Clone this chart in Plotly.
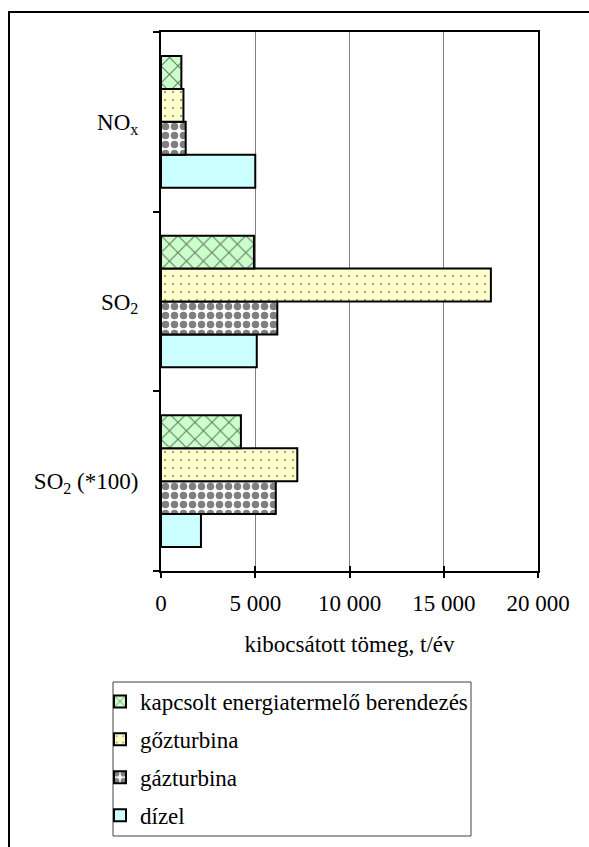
import plotly.graph_objects as go

# Emissions by pollutant (t/év), one series per generating technology
categories = ["NO<sub>x</sub>", "SO<sub>2</sub>", "SO<sub>2</sub> (*100)"]
series_names = ["dízel", "gázturbina", "gőzturbina", "kapcsolt energiatermelő berendezés"]
dizel = [5000, 5080, 2120]
gazturbina = [1310, 6170, 6090]
gozturbina = [1190, 17500, 7230]
kapcsolt = [1080, 4930, 4240]
x_ticks = [0, 5000, 10000, 15000, 20000]

W, H = 589, 847
ML, MR, MT, MB = 161, 51, 32, 276
PW, PH = W - ML - MR, H - MT - MB


def px_x(p):
    return (p - ML) / PW


def px_y(p):
    return (H - MB - p) / PH


FONT = "Liberation Serif"
FS = 23

styles = [
    dict(color="#CCFFFF", pattern=None),
    dict(color="#FFFFFF", pattern=dict(shape=".", size=9, solidity=0.55, fgcolor="black")),
    dict(color="#FFFFCC", pattern=dict(shape=".", size=8, solidity=0.05, fgcolor="black")),
    dict(color="#CCFFCC", pattern=dict(shape="x", size=12, solidity=0.18, fgcolor="black")),
]
values = [dizel, gazturbina, gozturbina, kapcsolt]
# legend lists the series top-down in the same order as the bars in a group
legend_ranks = [4, 3, 2, 1]

fig = go.Figure()
for name, vals, st, rank in zip(series_names, values, styles, legend_ranks):
    marker = dict(color=st["color"], line=dict(color="black", width=2))
    if st["pattern"]:
        marker["pattern"] = st["pattern"]
    fig.add_trace(go.Bar(
        x=vals, y=categories, name=name, orientation="h",
        marker=marker, legendgroup=name, legendrank=rank,
    ))

# companion axis that draws the inward half of the crossing x ticks
fig.add_trace(go.Scatter(x=[None], y=[None], xaxis="x2", showlegend=False, hoverinfo="skip"))

fig.update_layout(
    width=W, height=H,
    margin=dict(l=ML, r=MR, t=MT, b=MB, autoexpand=False),
    paper_bgcolor="white", plot_bgcolor="white",
    font=dict(family=FONT, size=FS, color="black"),
    separators=", ",
    barmode="group", bargap=0.267, bargroupgap=0,
    showlegend=True,
    legend=dict(
        x=px_x(100), y=px_y(680), xanchor="left", yanchor="top",
        traceorder="grouped", tracegroupgap=5,
        bgcolor="rgba(0,0,0,0)", borderwidth=0,
        font=dict(family=FONT, size=FS),
    ),
    xaxis=dict(
        range=[0, 20000], tickvals=x_ticks, tickformat=",d",
        showgrid=True, gridcolor="#808080", gridwidth=1,
        showline=True, linecolor="black", linewidth=2, mirror=True,
        ticks="outside", ticklen=5, tickwidth=2, tickcolor="black",
        ticklabelstandoff=5, zeroline=False,
        title=dict(text="kibocsátott tömeg, t/év", standoff=21, font=dict(size=FS)),
        automargin=False,
    ),
    xaxis2=dict(
        range=[0, 20000], tickvals=x_ticks, overlaying="x", anchor="y", side="bottom",
        showticklabels=False, showgrid=False, showline=False, zeroline=False,
        ticks="inside", ticklen=5, tickwidth=2, tickcolor="black",
    ),
    yaxis=dict(
        type="category", categoryorder="array", categoryarray=categories[::-1],
        showgrid=False, showline=True, linecolor="black", linewidth=2, mirror=True,
        ticks="outside", ticklen=6, tickwidth=2, tickcolor="black",
        tickson="boundaries", ticklabelstandoff=16, automargin=False,
    ),
    shapes=[
        # outer frame of the chart area
        dict(type="rect", xref="paper", yref="paper",
             x0=px_x(9), x1=px_x(700), y0=px_y(950), y1=px_y(12),
             line=dict(color="black", width=2), fillcolor="rgba(0,0,0,0)", layer="below"),
        # legend frame
        dict(type="rect", xref="paper", yref="paper",
             x0=px_x(113), x1=px_x(471), y0=px_y(836), y1=px_y(682),
             line=dict(color="#404040", width=1), fillcolor="rgba(0,0,0,0)"),
    ],
)

fig.write_html("out.html")
